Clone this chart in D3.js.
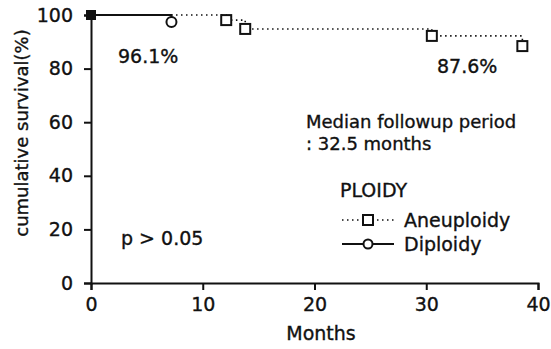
<!DOCTYPE html>
<html>
<head>
<meta charset="utf-8">
<script src="https://cdn.jsdelivr.net/npm/d3@7"></script>
<style>
  body { margin: 0; background: #fff; }
  text { font-family: "DejaVu Sans", sans-serif; fill: #111; stroke: #111; stroke-width: 0.35px; }
</style>
</head>
<body>
<svg id="km-chart"></svg>
<script>
// survival curves (step points: month, survival %)
const aneuploidyMonths = [0, 12.1, 13.8, 30.5, 38.6];
const aneuploidySurvival = [100, 98.1, 94.8, 92.2, 88.4];
const diploidyMonths = [0, 7.2];
const diploidySurvival = [100, 97.4];
const xTicks = [0, 10, 20, 30, 40];
const yTicks = [0, 20, 40, 60, 80, 100];

const width = 551, height = 349;
const margin = {top: 15, right: 13, bottom: 66, left: 91};

const svg = d3.select('#km-chart').attr('width', width).attr('height', height);

const x = d3.scaleLinear().domain([0, 40]).range([margin.left, width - margin.right]);
const y = d3.scaleLinear().domain([0, 100]).range([height - margin.bottom, margin.top]);

// axes
const xAxis = svg.append('g')
    .attr('transform', `translate(0,${y(0)})`)
    .call(d3.axisBottom(x).tickValues(xTicks).tickSize(7).tickPadding(8));
const yAxis = svg.append('g')
    .attr('transform', `translate(${x(0)},0)`)
    .call(d3.axisLeft(y).tickValues(yTicks).tickSize(7).tickPadding(11));
[xAxis, yAxis].forEach(a => {
    a.selectAll('path').attr('stroke', '#111').attr('stroke-width', 2);
    a.selectAll('line').attr('stroke', '#111').attr('stroke-width', 2);
    a.selectAll('text').attr('font-size', 19).attr('fill', '#111')
        .attr('font-family', '"DejaVu Sans", sans-serif');
});

// step curve helper
const stepLine = d3.line().x(d => x(d[0])).y(d => y(d[1])).curve(d3.curveStepAfter);

const aneuploidy = aneuploidyMonths.map((m, i) => [m, aneuploidySurvival[i]]);
const diploidy = diploidyMonths.map((m, i) => [m, diploidySurvival[i]]);

svg.append('path')
    .datum(aneuploidy)
    .attr('d', stepLine)
    .attr('fill', 'none')
    .attr('stroke', '#111')
    .attr('stroke-width', 1.6)
    .attr('stroke-dasharray', '1.5,3.5');

svg.append('path')
    .datum(diploidy)
    .attr('d', stepLine)
    .attr('fill', 'none')
    .attr('stroke', '#111')
    .attr('stroke-width', 2);

// markers
svg.selectAll('.sq')
    .data(aneuploidy.slice(1))
    .join('rect')
    .attr('x', d => x(d[0]) - 5)
    .attr('y', d => y(d[1]) - 5)
    .attr('width', 10).attr('height', 10)
    .attr('fill', '#fff').attr('stroke', '#111').attr('stroke-width', 2);

svg.selectAll('.circ')
    .data(diploidy.slice(1))
    .join('circle')
    .attr('cx', d => x(d[0]))
    .attr('cy', d => y(d[1]))
    .attr('r', 5)
    .attr('fill', '#fff').attr('stroke', '#111').attr('stroke-width', 2);

// start marker
svg.append('rect')
    .attr('x', x(0) - 5).attr('y', y(100) - 5)
    .attr('width', 10).attr('height', 10)
    .attr('fill', '#111');

// annotations
const note = (tx, ty, txt, anchor = 'start', size = 19) => svg.append('text')
    .attr('x', tx).attr('y', ty).attr('font-size', size)
    .attr('text-anchor', anchor).text(txt);

note(118, 63, '96.1%');
note(437, 73, '87.6%');
note(306, 128, 'Median followup period', 'start', 18);
note(306, 150, ': 32.5 months', 'start', 18);
note(121, 245, 'p > 0.05');
note(340, 197, 'PLOIDY');

// legend
const legend = svg.append('g');
legend.append('line')
    .attr('x1', 342).attr('x2', 394).attr('y1', 220).attr('y2', 220)
    .attr('stroke', '#111').attr('stroke-width', 1.6).attr('stroke-dasharray', '1.5,3.5');
legend.append('rect')
    .attr('x', 363).attr('y', 215).attr('width', 10).attr('height', 10)
    .attr('fill', '#fff').attr('stroke', '#111').attr('stroke-width', 2);
legend.append('line')
    .attr('x1', 342).attr('x2', 394).attr('y1', 244).attr('y2', 244)
    .attr('stroke', '#111').attr('stroke-width', 2);
legend.append('circle')
    .attr('cx', 368).attr('cy', 244).attr('r', 4.5)
    .attr('fill', '#fff').attr('stroke', '#111').attr('stroke-width', 2);
note(404, 227, 'Aneuploidy');
note(404, 251, 'Diploidy');

// axis titles
note(321, 340, 'Months', 'middle');
svg.append('text')
    .attr('transform', `translate(28,${(y(0) + y(100)) / 2 - 16}) rotate(-90)`)
    .attr('text-anchor', 'middle')
    .attr('font-size', 18)
    .text('cumulative survival(%)');
</script>
</body>
</html>
